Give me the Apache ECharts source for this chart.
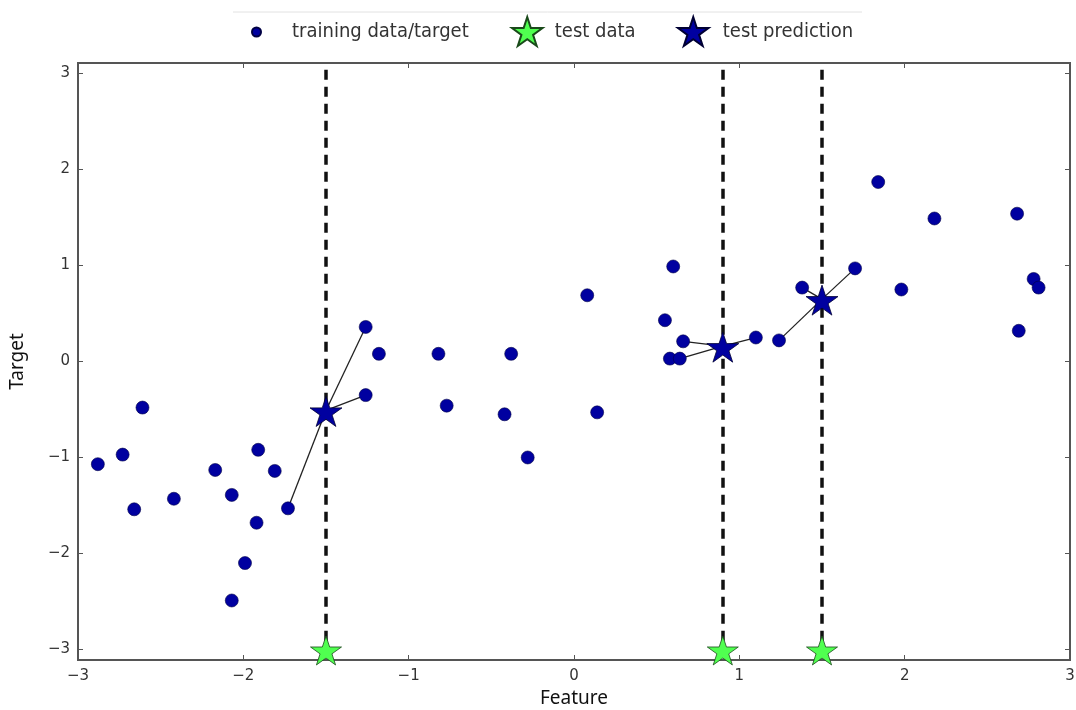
<!DOCTYPE html>
<html><head><meta charset="utf-8">
<script src="https://cdn.jsdelivr.net/npm/echarts@6/dist/echarts.min.js"></script>
<style>html,body{margin:0;padding:0;background:#fff}#c{width:1076px;height:710px}</style>
</head><body><div id="c"></div>
<script>
// ---- data ----
const trainX = [-2.88,-2.73,-2.61,-2.66,-2.42,-2.17,-2.07,-2.07,-1.99,-1.92,-1.91,-1.81,-1.73,-1.26,-1.18,-1.26,-0.82,-0.77,-0.42,-0.38,-0.28,0.08,0.14,0.55,0.60,0.58,0.64,0.66,1.10,1.24,1.38,1.70,1.84,1.98,2.18,2.68,2.69,2.78,2.81];
const trainY = [-1.07,-0.97,-0.48,-1.54,-1.43,-1.13,-1.39,-2.49,-2.10,-1.68,-0.92,-1.14,-1.53,0.36,0.08,-0.35,0.08,-0.46,-0.55,0.08,-1.00,0.69,-0.53,0.43,0.99,0.03,0.03,0.21,0.25,0.22,0.77,0.97,1.87,0.75,1.49,1.54,0.32,0.86,0.77];
const testX = [-1.5, 0.9, 1.5];
const testY = [-3, -3, -3];
const predY = [-0.51, 0.16, 0.65];
const neighborIdx = [[12,13,15],[26,27,28],[29,30,31]];
const xTicks = [-3,-2,-1,0,1,2,3];
const yTicks = [-3,-2,-1,0,1,2,3];
const xRange = [-3, 3];
const yRange = [-3.11, 3.11];
const vlineTop = 3.04;

const STAR = 'path://M50,0 L61.2,34.5 L97.6,34.5 L68.2,55.9 L79.4,90.5 L50,69.1 L20.6,90.5 L31.8,55.9 L2.4,34.5 L38.8,34.5 Z';
const fmt = v => (v < 0 ? '\u2212' + Math.abs(v) : String(v));

const trainData = trainX.map((x, i) => [x, trainY[i]]);
const testData = testX.map((x, i) => [x, testY[i]]);
const predData = testX.map((x, i) => [x, predY[i]]);
const links = [];
neighborIdx.forEach((arr, i) => arr.forEach(j => links.push({coords: [[testX[i], predY[i]], [trainX[j], trainY[j]]]})));
const vlines = testX.map((x, i) => ({coords: [[x, vlineTop], [x, testY[i]]]}));

const axisCol = '#555';
const lblStyle = {color: '#333', fontSize: 15, fontFamily: 'DejaVu Sans'};
const legText = {color: '#333', fontSize: 20, fontFamily: 'DejaVu Sans Condensed'};

const chart = echarts.init(document.getElementById('c'), null, {renderer: 'canvas'});
chart.setOption({
  animation: false,
  backgroundColor: '#fff',
  grid: {left: 78, right: 6, top: 63, bottom: 50, containLabel: false, outerBoundsMode: 'none',
         show: true, borderColor: axisCol, borderWidth: 2, backgroundColor: 'transparent'},
  legend: [
    {data: [{name: 'training data/target', icon: 'circle'}], left: 246, top: 17, itemWidth: 9, itemHeight: 13, itemGap: 0,
     textStyle: Object.assign({padding: [0,0,0,26]}, legText), selectedMode: false},
    {data: [{name: 'test data', icon: STAR}], left: 506, top: 11, itemWidth: 31, itemHeight: 29, itemGap: 0,
     textStyle: Object.assign({padding: [0,0,0,7]}, legText), selectedMode: false},
    {data: [{name: 'test prediction', icon: STAR}], left: 672, top: 11, itemWidth: 31, itemHeight: 29, itemGap: 0,
     textStyle: Object.assign({padding: [0,0,0,9]}, legText), selectedMode: false}
  ],
  graphic: [{type: 'line', shape: {x1: 233, y1: 12, x2: 862, y2: 12}, style: {stroke: '#e2e2e2', lineWidth: 1}, silent: true}],
  xAxis: [
    {type: 'value', min: xRange[0], max: xRange[1], interval: 1, name: 'Feature', nameLocation: 'middle', nameGap: 29,
     nameTextStyle: {fontSize: 19, color: '#111', fontFamily: 'Noto Sans'},
     axisLine: {show: false, onZero: false}, splitLine: {show: false},
     axisTick: {show: true, inside: true, length: 5, lineStyle: {color: axisCol}},
     axisLabel: {margin: 9, formatter: fmt, ...lblStyle, customValues: xTicks}},
    {type: 'value', position: 'top', min: xRange[0], max: xRange[1], interval: 1,
     axisLine: {show: false, onZero: false}, splitLine: {show: false}, axisLabel: {show: false},
     axisTick: {show: true, inside: true, length: 5, lineStyle: {color: axisCol}}}
  ],
  yAxis: [
    {type: 'value', min: yRange[0], max: yRange[1], name: 'Target', nameLocation: 'middle', nameGap: 51, nameRotate: 90,
     nameTextStyle: {fontSize: 19, color: '#111', fontFamily: 'Noto Sans'},
     axisLine: {show: false, onZero: false}, splitLine: {show: false},
     axisTick: {show: true, inside: true, length: 5, customValues: yTicks, lineStyle: {color: axisCol}},
     axisLabel: {margin: 8, formatter: fmt, ...lblStyle, customValues: yTicks}},
    {type: 'value', position: 'right', min: yRange[0], max: yRange[1],
     axisLine: {show: false, onZero: false}, splitLine: {show: false}, axisLabel: {show: false},
     axisTick: {show: true, inside: true, length: 5, customValues: yTicks, lineStyle: {color: axisCol}}}
  ],
  series: [
    {type: 'lines', coordinateSystem: 'cartesian2d', data: vlines, z: 1, silent: true,
     lineStyle: {color: '#111', width: 3.5, type: [10, 7], opacity: 1}},
    {type: 'lines', coordinateSystem: 'cartesian2d', data: links, z: 2, silent: true,
     lineStyle: {color: '#222', width: 1.3, opacity: 1}},
    {name: 'training data/target', type: 'scatter', data: trainData, symbol: 'circle', symbolSize: 13, z: 3,
     itemStyle: {color: '#0000a0', borderColor: '#000044', borderWidth: 0.6, opacity: 1}},
    {name: 'test data', type: 'scatter', data: testData, symbol: STAR, symbolSize: [31, 29], symbolOffset: [0, 1], z: 4, clip: false,
     itemStyle: {color: '#50ff50', borderColor: '#1a4a1a', borderWidth: 0.8, opacity: 1}},
    {name: 'test prediction', type: 'scatter', data: predData, symbol: STAR, symbolSize: [32, 30], symbolOffset: [0, 1], z: 5,
     itemStyle: {color: '#0000a0', borderColor: '#000033', borderWidth: 0.8, opacity: 1}}
  ]
});
</script></body></html>
